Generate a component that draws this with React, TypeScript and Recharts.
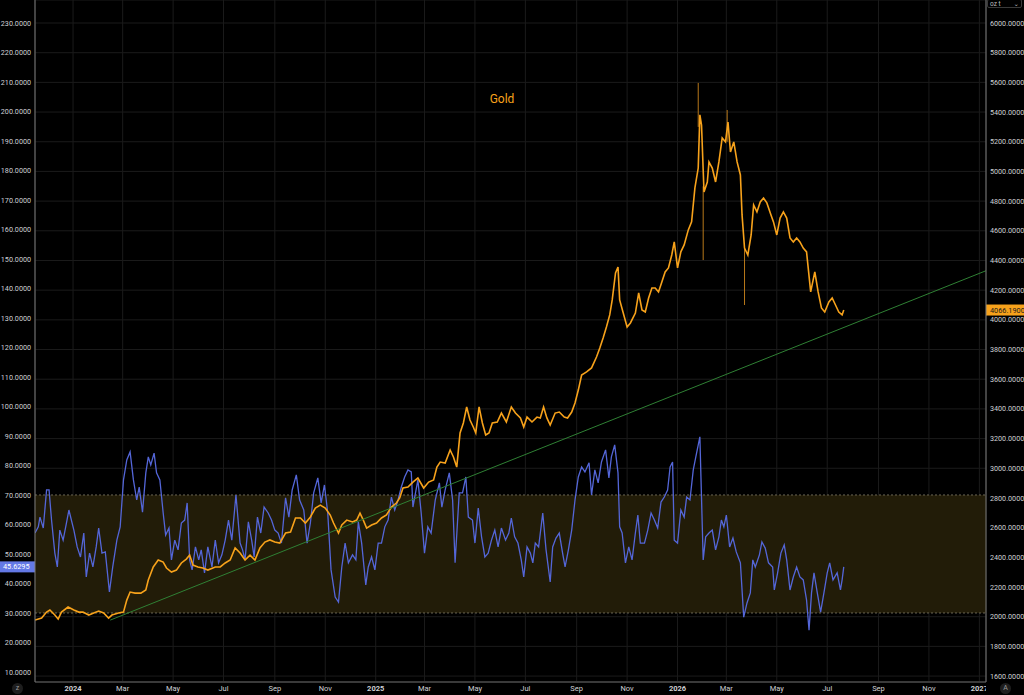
import { CartesianGrid, ComposedChart, Line, ReferenceArea, ReferenceLine, XAxis, YAxis } from "recharts";

const font = "Roboto, 'DejaVu Sans', sans-serif";
const axisText = "#cfd0d4";

// days counted from 2024-01-01
const monthTicks = [0, 60, 121, 182, 244, 305, 366, 425, 486, 547, 609, 670, 731, 790, 851, 912, 974, 1035, 1096];
const monthLabels = ["2024", "Mar", "May", "Jul", "Sep", "Nov", "2025", "Mar", "May", "Jul", "Sep", "Nov", "2026", "Mar", "May", "Jul", "Sep", "Nov", "2027"];
const leftTicks = [10, 20, 30, 40, 50, 60, 70, 80, 90, 100, 110, 120, 130, 140, 150, 160, 170, 180, 190, 200, 210, 220, 230];
const rightTicks = [1600, 1800, 2000, 2200, 2400, 2600, 2800, 3000, 3200, 3400, 3600, 3800, 4000, 4200, 4400, 4600, 4800, 5000, 5200, 5400, 5600, 5800, 6000];

const goldDays = [
  -46, -38, -32, -28, -22, -18, -14, -6, 1, 7, 12, 19, 25, 31, 37, 43, 47, 55, 61, 65, 69, 75, 82, 88,
  91, 97, 103, 109, 113, 119, 125, 131, 137, 141, 145, 151, 157, 163, 172, 178, 184, 190, 196, 202,
  208, 214, 220, 226, 232, 238, 244, 250, 257, 263, 269, 275, 281, 287, 293, 299, 305, 311, 315, 321, 325, 331, 338,
  343, 347, 351, 355, 361, 367, 373, 379, 385, 391, 395, 399, 405, 411, 417, 424, 430, 436, 440, 444,
  450, 456, 460, 464,
  468, 472, 476, 480, 484, 487, 491, 495, 499, 503, 507, 513, 518, 524, 530, 535, 541, 545, 549, 555, 561, 565, 569, 573, 577, 583, 588, 594,
  598, 603, 607, 611, 615, 621, 627, 633, 637, 641, 645, 649, 652, 656, 659, 661, 665, 670, 674, 680, 684,
  688, 692, 696, 700, 704, 708, 712, 716, 720, 724, 727, 731, 735, 739, 744, 748, 752, 756, 758, 760, 763, 767, 769, 773, 777, 781, 785, 789, 792, 795, 799, 803, 807, 809, 812, 816, 820, 823, 827, 831, 835, 839, 844,
  847, 851, 855, 859, 863, 867, 871, 875, 879, 883, 887, 889, 892, 897, 901, 905, 909, 914, 918, 922, 926, 930, 932,
];
const goldPrices = [
  1977, 1991, 2031, 2045, 2011, 1984, 2031, 2065, 2045, 2031, 2031, 2011, 2025, 2038, 2025, 1991, 2011, 2025, 2031, 2112, 2166, 2159, 2159, 2180,
  2247, 2335, 2382, 2368, 2328, 2301, 2314, 2362, 2388, 2415, 2348, 2335, 2328, 2314, 2335, 2335, 2362, 2382, 2463, 2429,
  2382, 2415, 2382, 2463, 2503, 2517, 2503, 2496, 2564, 2570, 2665, 2665, 2631, 2672, 2732, 2752, 2732, 2685, 2631, 2564, 2618, 2651, 2638,
  2651, 2698, 2651, 2597, 2618, 2631, 2665, 2685, 2739, 2766, 2800, 2867, 2874, 2907, 2934, 2867, 2907, 2921, 3008, 3042,
  3035, 3123, 3076, 3008,
  3238, 3305, 3413, 3325, 3278, 3238, 3413, 3305, 3224, 3238, 3305, 3312, 3372, 3312, 3413, 3372, 3339, 3278, 3345, 3312, 3345, 3339, 3413, 3339, 3291, 3372, 3379, 3345,
  3339, 3379, 3440, 3527, 3628, 3649, 3676, 3750, 3810, 3878, 3952, 4033, 4134, 4316, 4356, 4134, 4053, 3952, 3979, 4046, 4181,
  4067, 4053, 4147, 4215, 4215, 4188, 4255, 4323, 4350, 4437, 4525, 4350, 4458, 4505, 4606, 4660, 4889, 5023, 5381, 5313, 4862, 4929, 5064, 5023, 4929, 5064, 5226, 5199, 5333, 5131, 5199, 5064, 4976, 4707, 4484, 4437, 4572, 4774, 4727, 4794, 4821, 4788, 4707,
  4660, 4572, 4686, 4727, 4686, 4552, 4525, 4552, 4525, 4484, 4458, 4350, 4188, 4323, 4188, 4080, 4053, 4120, 4147, 4100, 4053, 4033, 4066.19,
];

// the few long candle wicks that stand out from the closes
const wickDays = [756, 762, 791, 812];
const wickLows = [5300, 4403, 5200, 4100];
const wickHighs = [5596, 4900, 5414, 4480];

const rsiDays = [
  -46, -42, -40, -36, -32, -29, -26, -22, -19, -16, -12, -8, -5, 1, 5, 9, 13, 16, 20, 24, 28, 31, 35, 39, 44, 48, 53, 57, 61, 65, 69, 73, 77, 80, 84, 88,
  91, 94, 98, 101, 105, 109, 112, 116, 119, 123, 127, 131, 135, 138, 141, 144, 148, 152, 155, 159, 163, 168, 172, 176, 180, 184, 188, 192, 197, 202,
  205, 208, 212, 216, 219, 223, 227, 231, 236, 240, 244, 248, 252, 257, 261, 265, 270, 274, 279, 283, 287, 291, 296, 300, 304, 308, 312, 317, 321, 325, 329, 333, 338, 342,
  345, 349, 354, 357, 361, 365, 369, 373, 377, 381, 385, 389, 393, 397, 401, 405, 409, 411, 417, 421, 425, 429, 433, 438, 443,
  446, 450, 455, 459, 462, 467, 471, 475, 478, 483, 486, 490, 494, 498, 502, 506, 510, 514, 518, 523, 527, 530, 534, 538, 542, 545, 549, 553, 556, 559, 563, 568, 572, 577, 580, 584, 588, 592,
  595, 599, 603, 607, 611, 615, 619, 624, 627, 631, 635, 639, 644, 648, 651, 655, 659, 661, 664, 668, 672, 676, 680, 683, 686,
  691, 695, 699, 703, 707, 711, 715, 719, 722, 725, 727, 731, 735, 739, 742, 746, 750, 754, 758, 762, 765, 769, 773, 777, 781, 784, 787, 790, 794, 798, 802, 807, 811, 815, 819, 822, 825, 830, 833, 837, 841, 846,
  848, 852, 856, 860, 863, 867, 871, 875, 879, 883, 887, 890, 893, 896, 900, 904, 908, 912, 915, 919, 924, 928, 930, 932,
];
const rsiValues = [
  57.1, 59.2, 62.5, 58.8, 71.7, 71.7, 61.5, 50.3, 45.6, 58.1, 54.7, 60.5, 64.9, 58.1, 52.4, 49.0, 57.1, 42.2, 50.3, 45.6, 52.4, 58.8, 50.3, 50.7, 37.1, 45.6, 54.7, 59.2, 75.1, 81.9, 84.6, 75.1, 68.3, 72.7, 64.2, 77.5,
  82.9, 80.2, 84.2, 77.5, 75.1, 63.9, 56.4, 58.8, 48.0, 54.7, 51.4, 60.5, 61.5, 67.3, 48.0, 44.6, 52.4, 48.0, 51.4, 43.6, 52.4, 45.6, 54.7, 47.0, 49.7, 54.7, 61.5, 54.7, 70.0, 53.7,
  51.4, 48.0, 60.9, 54.7, 49.0, 62.5, 57.1, 65.9, 63.9, 61.5, 58.1, 57.1, 53.7, 69.0, 62.5, 71.7, 76.8, 68.3, 64.9, 53.7, 60.5, 70.7, 75.8, 67.3, 73.4, 63.9, 44.6, 35.4, 33.7, 45.6, 53.7, 47.0, 49.7, 48.0,
  60.9, 53.7, 39.5, 45.6, 49.0, 44.6, 53.7, 53.7, 59.2, 61.5, 69.3, 64.9, 68.3, 72.7, 76.1, 78.5, 77.8, 65.9, 75.1, 63.9, 50.3, 59.2, 57.1, 68.3, 74.1,
  65.9, 71.7, 77.5, 68.3, 47.0, 70.7, 70.7, 76.1, 62.5, 61.5, 53.7, 65.6, 55.8, 49.0, 50.3, 54.7, 58.1, 52.4, 58.8, 54.7, 57.1, 62.2, 55.8, 53.7, 48.0, 42.2, 52.4, 50.3, 47.0, 53.7, 52.4, 63.9, 51.4, 40.5, 52.4, 55.4, 57.1, 50.3,
  45.6, 51.4, 58.1, 68.3, 76.1, 79.5, 77.8, 80.9, 70.0, 78.5, 74.1, 81.2, 85.3, 75.8, 82.9, 87.0, 77.5, 59.2, 57.1, 47.0, 52.4, 48.0, 57.1, 63.2, 53.7,
  53.7, 58.1, 63.9, 61.5, 58.8, 67.6, 69.3, 71.7, 79.5, 81.2, 54.7, 53.7, 64.9, 62.5, 69.3, 68.3, 78.5, 84.2, 89.7, 48.0, 55.8, 57.1, 58.1, 51.4, 55.8, 61.5, 59.2, 63.2, 52.4, 55.4, 50.7, 47.0, 28.6, 33.4, 36.8, 48.0, 45.6, 49.7, 54.1, 52.0, 47.0, 45.6,
  37.8, 43.6, 50.3, 53.1, 48.0, 37.8, 42.2, 45.6, 42.2, 41.2, 34.4, 24.2, 36.8, 43.6, 36.8, 30.3, 36.8, 43.6, 47.0, 41.2, 43.6, 37.8, 41.2, 45.6295,
];

const trendStart = { day: 45, price: 1977 };
const trendEnd = { day: 1104, price: 4331 };

const goldData = goldDays.map((day, i) => ({ day, price: goldPrices[i] }));
const rsiData = rsiDays.map((day, i) => ({ day, value: rsiValues[i] }));

function TimeTick({ x, y, payload }: any) {
  const label = monthLabels[monthTicks.indexOf(payload.value)] ?? "";
  const year = /^\d{4}$/.test(label);
  return (
    <text x={x} y={y + 9} textAnchor="middle" fill={axisText} fontSize={7.5} fontWeight={year ? 700 : 400} fontFamily={font} clipPath="url(#time-clip)">
      {label}
    </text>
  );
}

function LeftBadge({ viewBox, text }: any) {
  const y = viewBox.y;
  return (
    <g>
      <rect x={viewBox.x - 35} y={y - 5.5} width={35} height={11} fill="#6479e6" />
      <text x={viewBox.x - 32} y={y + 2.6} fill="#ffffff" fontSize={7.3} fontFamily={font}>{text}</text>
    </g>
  );
}

function RightBadge({ viewBox, text }: any) {
  const y = viewBox.y;
  const x = viewBox.x + viewBox.width;
  return (
    <g>
      <rect x={x} y={y - 5.5} width={38} height={11} fill="#f7a21b" />
      <text x={x + 4} y={y + 2.6} fill="#1a1a1a" fontSize={7.3} fontFamily={font}>{text}</text>
    </g>
  );
}

const roundBtn = {
  position: "absolute" as const, width: 11, height: 11, borderRadius: 6, background: "#1e1e1e",
  color: "#9a9a9a", fontSize: 7, lineHeight: "11px", textAlign: "center" as const,
};

export default function App() {
  return (
    <div style={{ position: "absolute", left: 0, top: 0, width: 1024, height: 695, background: "#000", fontFamily: font, overflow: "hidden" }}>
      <ComposedChart width={1024} height={695} margin={{ top: 0, right: 0, bottom: 0, left: 0 }}>
        <defs>
          <clipPath id="time-clip"><rect x={0} y={0} width={986} height={695} /></clipPath>
        </defs>
        <ReferenceArea yAxisId="left" y1={30} y2={70} fill="#221c08" fillOpacity={1} stroke="none" />
        <CartesianGrid yAxisId="right" stroke="#1b1b1b" />
        <ReferenceLine yAxisId="left" y={70} stroke="#6a6656" strokeDasharray="2 2" />
        <ReferenceLine yAxisId="left" y={30} stroke="#6a6656" strokeDasharray="2 2" />
        <XAxis dataKey="day" type="number" domain={[-46, 1104]} ticks={monthTicks} interval={0} tick={<TimeTick />} tickSize={0} tickMargin={0} height={13} axisLine={{ stroke: "#3a3a3a", strokeWidth: 2 }} tickLine={false} allowDataOverflow />
        <YAxis yAxisId="left" orientation="left" type="number" domain={[6.6, 237.8]} ticks={leftTicks} interval={0} width={35} tickSize={0} tickMargin={4} tick={{ fill: axisText, fontSize: 7.2, fontFamily: font }} tickFormatter={(v) => Number(v).toFixed(4)} axisLine={{ stroke: "#7a7a7a" }} tickLine={false} allowDataOverflow />
        <YAxis yAxisId="right" orientation="right" type="number" domain={[1560, 6155]} ticks={rightTicks} interval={0} width={38} tickSize={0} tickMargin={4} tick={{ fill: axisText, fontSize: 7.2, fontFamily: font }} tickFormatter={(v) => Number(v).toFixed(4)} axisLine={{ stroke: "#7a7a7a" }} tickLine={false} allowDataOverflow />
        <Line yAxisId="left" data={rsiData} dataKey="value" type="linear" stroke="#5466d8" strokeWidth={1.3} dot={false} activeDot={false} isAnimationActive={false} />
        {wickDays.map((day, i) => (
          <ReferenceLine key={day} yAxisId="right" segment={[{ x: day, y: wickLows[i] }, { x: day, y: wickHighs[i] }]} stroke="#b8781a" strokeWidth={1} />
        ))}
        <Line yAxisId="right" data={goldData} dataKey="price" type="linear" stroke="#f7a21b" strokeWidth={1.6} dot={false} activeDot={false} isAnimationActive={false} />
        <ReferenceLine yAxisId="right" segment={[{ x: trendStart.day, y: trendStart.price }, { x: trendEnd.day, y: trendEnd.price }]} stroke="#2f8034" strokeWidth={1} />
        <ReferenceLine yAxisId="left" y={45.6295} stroke="none" label={<LeftBadge text="45.6295" />} />
        <ReferenceLine yAxisId="right" y={4066.19} stroke="none" label={<RightBadge text="4066.1900" />} />
      </ComposedChart>

      <div style={{ position: "absolute", left: 480, top: 92, width: 44, textAlign: "center", color: "#f7a21b", fontSize: 12 }}>Gold</div>
      <div style={{ position: "absolute", left: 987, top: -1, width: 35, height: 9, border: "1px solid #3a3a3a", borderRadius: 2, color: "#bdbdbd", fontSize: 6.5, lineHeight: "9px", paddingLeft: 2, boxSizing: "border-box" }}>
        oz t<span style={{ position: "absolute", right: 2, top: 0 }}>⌄</span>
      </div>
      <div style={{ ...roundBtn, left: 12, top: 683 }}>z</div>
      <div style={{ ...roundBtn, left: 1000, top: 683 }}>A</div>
    </div>
  );
}
